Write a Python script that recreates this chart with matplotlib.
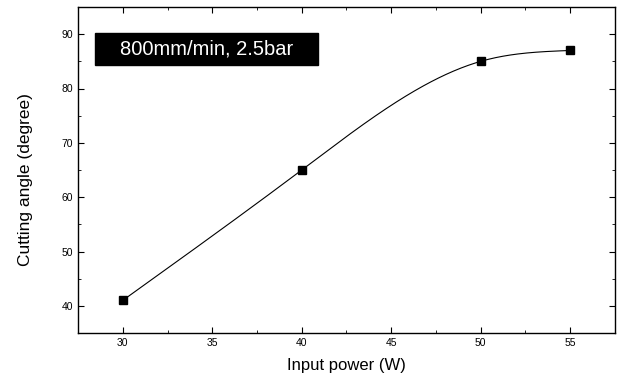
import numpy as np
import matplotlib
matplotlib.use("Agg")
import matplotlib.pyplot as plt
from matplotlib.patches import Rectangle

plt.rcParams['font.family'] = ['Liberation Sans', 'DejaVu Sans']

# data
power = [30, 40, 50, 55]
angle = [41, 65, 85, 87]
note = "800mm/min, 2.5bar"


def natural_spline(x, y, n=300):
    # smooth curve through the points, the way the original plot drew it
    x = np.asarray(x, float)
    y = np.asarray(y, float)
    k = len(x)
    h = np.diff(x)
    A = np.zeros((k, k))
    b = np.zeros(k)
    A[0, 0] = A[-1, -1] = 1
    for i in range(1, k - 1):
        A[i, i - 1] = h[i - 1]
        A[i, i] = 2 * (h[i - 1] + h[i])
        A[i, i + 1] = h[i]
        b[i] = 6 * ((y[i + 1] - y[i]) / h[i] - (y[i] - y[i - 1]) / h[i - 1])
    m = np.linalg.solve(A, b)
    xs = np.linspace(x[0], x[-1], n)
    idx = np.clip(np.searchsorted(x, xs) - 1, 0, k - 2)
    t0 = x[idx]
    t1 = x[idx + 1]
    hh = t1 - t0
    ys = (m[idx] * (t1 - xs) ** 3 / (6 * hh) + m[idx + 1] * (xs - t0) ** 3 / (6 * hh)
          + (y[idx] / hh - m[idx] * hh / 6) * (t1 - xs)
          + (y[idx + 1] / hh - m[idx + 1] * hh / 6) * (xs - t0))
    return xs, ys


fig = plt.figure(figsize=(6.27, 3.85), dpi=100)
ax = fig.add_axes([78 / 627, 1 - 333 / 385, (615 - 78) / 627, (333 - 7) / 385])

xs, ys = natural_spline(power, angle)
ax.plot(xs, ys, color='black', lw=0.8)
ax.plot(power, angle, ls='none', marker='s', ms=6, color='black')

ax.set_xlim(27.5, 57.5)
ax.set_ylim(35, 95)
ax.set_xticks([30, 35, 40, 45, 50, 55])
ax.set_xticks(np.arange(32.5, 57.5, 5), minor=True)
ax.set_yticks([40, 50, 60, 70, 80, 90])
ax.set_yticks(np.arange(35, 95, 10), minor=True)
ax.tick_params(which='both', direction='in', top=True, right=True, labelsize=7.5)
ax.tick_params(which='major', length=4)
ax.tick_params(which='minor', length=2)
for s in ax.spines.values():
    s.set_linewidth(1.0)

ax.set_xlabel('Input power (W)', fontsize=12)
ax.set_ylabel('Cutting angle (degree)', fontsize=12.5)
ax.xaxis.set_label_coords(0.5, -0.077)
ax.yaxis.set_label_coords(-0.084, 0.47)

# black label box with white text
ax.add_patch(Rectangle((0.032, 0.822), 0.415, 0.098, transform=ax.transAxes,
                       fc='black', ec='black', zorder=3))
ax.text(0.2395, 0.871, note, transform=ax.transAxes, fontsize=14.5, color='white',
        ha='center', va='center', zorder=4)

fig.savefig('out.png', dpi=100)
